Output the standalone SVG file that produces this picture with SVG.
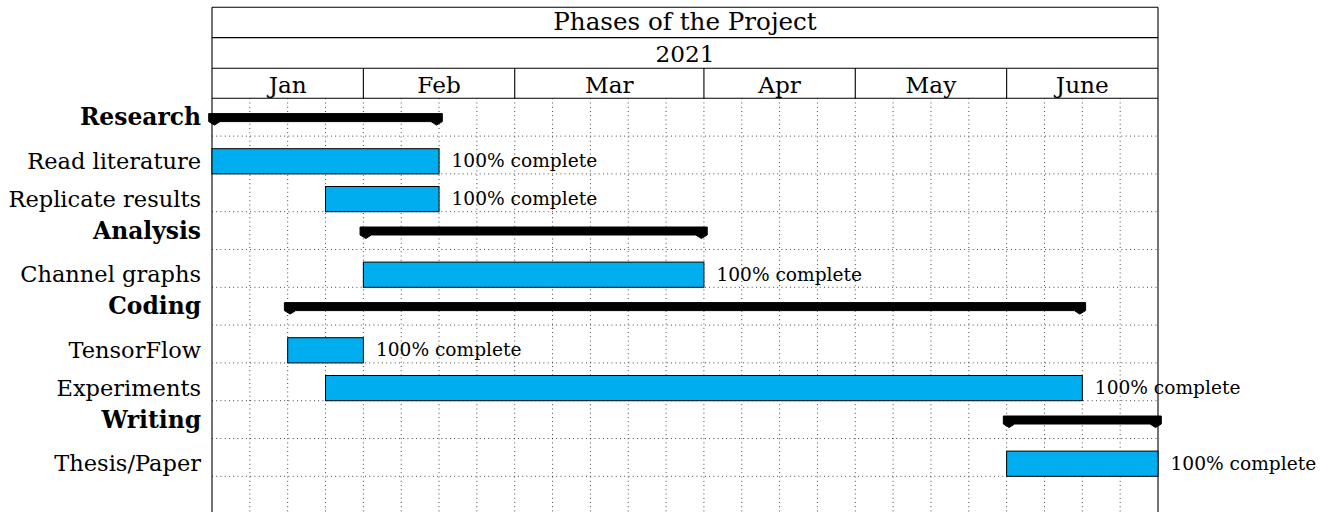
<svg xmlns="http://www.w3.org/2000/svg" width="1335" height="512" viewBox="0 0 1335 512">
<style>
  text { font-family: "DejaVu Serif", "Liberation Serif", serif; fill: #000; }
  .hdr { font-size: 23.2px; text-anchor: middle; }
  .ttl { font-size: 24.6px; text-anchor: middle; }
  .lbl { font-size: 22.5px; text-anchor: end; }
  .grp { font-size: 23.4px; text-anchor: end; font-weight: bold; }
  .pct { font-size: 18.6px; }
  .frame { stroke: #000; stroke-width: 1.1; fill: none; }
  .grid { stroke: #000; stroke-width: 0.85; stroke-dasharray: 0.85 3.4; fill: none; }
  .bar { fill: #00AEEF; stroke: #000; stroke-width: 1; }
  .gbar { fill: #000; stroke: #000; stroke-width: 1; stroke-linejoin: round; }
</style>
<rect width="1335" height="512" fill="#fff"/>
<g id="grid">
  <path class="grid" d="M249.84 98.3V512 M287.68 98.3V512 M325.52 98.3V512 M363.36 98.3V512 M401.2 98.3V512 M439.04 98.3V512 M476.88 98.3V512 M514.72 98.3V512 M552.56 98.3V512 M590.4 98.3V512 M628.24 98.3V512 M666.08 98.3V512 M703.92 98.3V512 M741.76 98.3V512 M779.6 98.3V512 M817.44 98.3V512 M855.28 98.3V512 M893.12 98.3V512 M930.96 98.3V512 M968.8 98.3V512 M1006.64 98.3V512 M1044.48 98.3V512 M1082.32 98.3V512 M1120.16 98.3V512"/>
  <path class="grid" d="M212 136.1H1158 M212 173.9H1158 M212 211.7H1158 M212 249.5H1158 M212 287.3H1158 M212 325.1H1158 M212 362.9H1158 M212 400.7H1158 M212 438.5H1158 M212 476.3H1158"/>
</g>
<g id="header">
  <path class="frame" d="M212 7.3H1158 M212 37.6H1158 M212 68.3H1158 M212 98.3H1158 M212 7.3V512 M1158 7.3V512 M363.36 68.3V98.3 M514.72 68.3V98.3 M703.92 68.3V98.3 M855.28 68.3V98.3 M1006.64 68.3V98.3"/>
  <text class="ttl" x="685" y="30">Phases of the Project</text>
  <text class="hdr" x="685" y="61.5">2021</text>
  <text class="hdr" x="287.68" y="92.5">Jan</text>
  <text class="hdr" x="439.04" y="92.5">Feb</text>
  <text class="hdr" x="609.32" y="92.5">Mar</text>
  <text class="hdr" x="779.6" y="92.5">Apr</text>
  <text class="hdr" x="930.96" y="92.5">May</text>
  <text class="hdr" x="1082.32" y="92.5">June</text>
</g>
<g id="research">
  <path class="gbar" d="M208.7 113.6H442.3V121.6L436.5 125.1L431 121.6H220L214.5 125.1L208.7 121.6Z"/>
  <text class="grp" x="201" y="125.1">Research</text>
</g>
<g id="read-literature">
  <rect class="bar" x="212" y="148.7" width="227.04" height="25.2"/>
  <text class="lbl" x="201" y="168.8">Read literature</text>
  <text class="pct" x="451.5" y="167.3">100% complete</text>
</g>
<g id="replicate-results">
  <rect class="bar" x="325.52" y="186.5" width="113.52" height="25.2"/>
  <text class="lbl" x="201" y="206.6">Replicate results</text>
  <text class="pct" x="451.5" y="205.1">100% complete</text>
</g>
<g id="analysis">
  <path class="gbar" d="M360.06 227H707.22V235L701.4 238.5L695.9 235H371.36L365.86 238.5L360.06 235Z"/>
  <text class="grp" x="201" y="238.5">Analysis</text>
</g>
<g id="channel-graphs">
  <rect class="bar" x="363.36" y="262.1" width="340.56" height="25.2"/>
  <text class="lbl" x="201" y="282.2">Channel graphs</text>
  <text class="pct" x="716.4" y="280.7">100% complete</text>
</g>
<g id="coding">
  <path class="gbar" d="M284.38 302.6H1085.62V310.6L1079.8 314.1L1074.3 310.6H295.68L290.18 314.1L284.38 310.6Z"/>
  <text class="grp" x="201" y="314.1">Coding</text>
</g>
<g id="tensorflow">
  <rect class="bar" x="287.68" y="337.7" width="75.68" height="25.2"/>
  <text class="lbl" x="201" y="357.8">TensorFlow</text>
  <text class="pct" x="375.9" y="356.3">100% complete</text>
</g>
<g id="experiments">
  <rect class="bar" x="325.52" y="375.5" width="756.8" height="25.2"/>
  <text class="lbl" x="201" y="395.6">Experiments</text>
  <text class="pct" x="1094.8" y="394.1">100% complete</text>
</g>
<g id="writing">
  <path class="gbar" d="M1003.34 416H1161.3V424L1155.5 427.5L1150 424H1014.64L1009.14 427.5L1003.34 424Z"/>
  <text class="grp" x="201" y="427.5">Writing</text>
</g>
<g id="thesis-paper">
  <rect class="bar" x="1006.64" y="451.1" width="151.36" height="25.2"/>
  <text class="lbl" x="201" y="471.2">Thesis/Paper</text>
  <text class="pct" x="1170.5" y="469.7">100% complete</text>
</g>
</svg>
